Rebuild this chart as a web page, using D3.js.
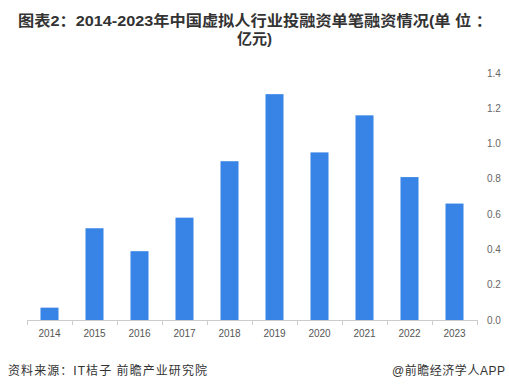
<!DOCTYPE html>
<html><head><meta charset="utf-8">
<script src="https://cdn.jsdelivr.net/npm/d3@7"></script>
<style>
html,body{margin:0;padding:0;background:#fff;}
svg{display:block;font-family:"Liberation Sans","Noto Sans CJK SC",sans-serif;}
</style></head>
<body><svg id="c" width="509" height="391"></svg>
<script>
const years = ["2014","2015","2016","2017","2018","2019","2020","2021","2022","2023"];
const values = [0.07,0.52,0.39,0.58,0.90,1.28,0.95,1.16,0.81,0.66];
const yTicks = [0,0.2,0.4,0.6,0.8,1.0,1.2,1.4];
const titleLines = ["图表2：2014-2023年中国虚拟人行业投融资单笔融资情况(单 位 ：","亿元)"];
const sourceText = "资料来源：IT桔子 前瞻产业研究院";
const creditText = "@前瞻经济学人APP";

const svg = d3.select("#c");
const x = d3.scaleBand().domain(years).range([27,477]).paddingInner(0.6).paddingOuter(0.3);
const y = d3.scaleLinear().domain([0,1.4]).range([320,73]);

// title
svg.append("text").attr("x",18).attr("y",26)
  .attr("font-size",15).attr("font-weight","bold").attr("fill","#333")
  .attr("textLength",474).attr("lengthAdjust","spacingAndGlyphs").text(titleLines[0]);
svg.append("text").attr("x",254.5).attr("y",44).attr("text-anchor","middle")
  .attr("font-size",15).attr("font-weight","bold").attr("fill","#333").text(titleLines[1]);

// bars
svg.append("g").selectAll("rect").data(values).join("rect")
  .attr("x",(d,i)=>x(years[i])).attr("width",x.bandwidth())
  .attr("y",d=>y(d)).attr("height",d=>y(0)-y(d)).attr("fill","#3784e6");

// x axis
const xa = svg.append("g");
xa.append("line").attr("x1",27).attr("x2",477).attr("y1",320.5).attr("y2",320.5).attr("stroke","#ccc");
const step = x.step();
const bounds = d3.range(years.length+1).map(i=>27+i*step);
xa.selectAll("line.t").data(bounds).join("line").attr("class","t")
  .attr("x1",d=>Math.round(d)+0.5).attr("x2",d=>Math.round(d)+0.5).attr("y1",320).attr("y2",325).attr("stroke","#ccc");
xa.selectAll("text").data(years).join("text")
  .attr("x",d=>x(d)+x.bandwidth()/2).attr("y",337).attr("text-anchor","middle")
  .attr("font-size",10).attr("fill","#555").text(d=>d);

// y axis labels (right)
svg.append("g").selectAll("text").data(yTicks).join("text")
  .attr("x",487).attr("y",d=>y(d)+3.5).attr("font-size",10).attr("fill","#666")
  .text(d=>d.toFixed(1));

// footer
svg.append("text").attr("x",8).attr("y",375).attr("font-size",12).attr("fill","#333")
  .attr("textLength",199).attr("lengthAdjust","spacing").text(sourceText);
svg.append("text").attr("x",392).attr("y",375).attr("font-size",12).attr("fill","#333")
  .attr("textLength",113).attr("lengthAdjust","spacing").text(creditText);
</script></body></html>
